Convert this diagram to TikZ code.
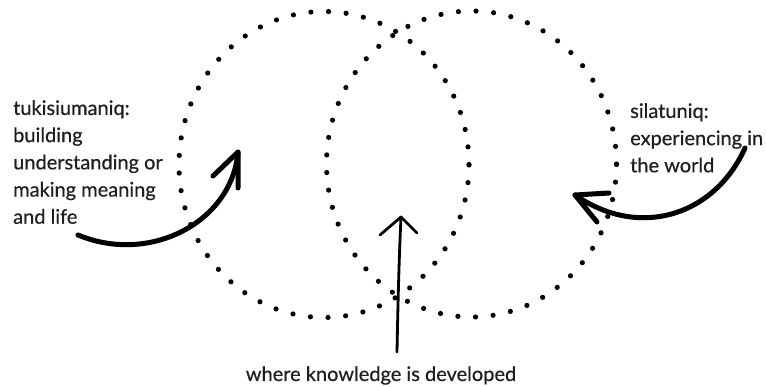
\documentclass[tikz,border=0pt]{standalone}
\usepackage{fontspec}
\setmainfont[FakeBold=0.5]{Lato}
\usetikzlibrary{shapes.geometric}
\begin{document}
\begin{tikzpicture}[x=1pt,y=-1pt,
  dotring/.style={ellipse, draw, line width=5.2pt, line cap=round,
    dash pattern=on 0pt off 17.66pt, minimum width=290pt,
    minimum height=306pt, inner sep=0pt, outer sep=0pt},
  caption/.style={font=\fontsize{20}{27.2}\selectfont, align=left,
    inner sep=0pt, text=black!88},
  bold arrow/.style={line width=5pt, line cap=round, line join=round},
  thin arrow/.style={line width=2.8pt, line cap=round, line join=round}]
\useasboundingbox (0,0) rectangle (766,387);

% the two overlapping dotted rings
\node[dotring] (making) at (324,164.5) {};
\node[dotring] (world)  at (471.5,164) {};

% captions
\node[caption, anchor=north west] (tuki) at (13,100)
  {tukisiumaniq:\\building\\understanding or\\making meaning\\and life};
\node[caption, anchor=north west] (sila) at (630,103)
  {silatuniq:\\experiencing in\\the world};
\node[caption, anchor=base] (where) at (381,381)
  {where knowledge is developed};

% arrow ends
\coordinate (l0) at (78,235);
\coordinate (l1) at (238,152);
\coordinate (la) at (213,176);
\coordinate (lb) at (238,188);

\coordinate (r0) at (745,148);
\coordinate (r1) at (575,195);
\coordinate (ra) at (609,193);
\coordinate (rb) at (597,222);

\coordinate (c0) at (397,352);
\coordinate (c1) at (401,217);
\coordinate (ca) at (380,235);
\coordinate (cb) at (417,233);

% left arrow into the first ring
\draw[bold arrow] (l0) .. controls (150,265) and (232,222) .. (l1);
\draw[bold arrow] (la) -- (l1) -- (lb);

% right arrow into the second ring
\draw[bold arrow] (r0) .. controls (715,215) and (640,240) .. (r1);
\draw[bold arrow] (ra) -- (r1) -- (rb);

% arrow up into the overlap
\draw[thin arrow] (c0) .. controls (398,300) and (399,260) .. (c1);
\draw[thin arrow] (ca) -- (c1) -- (cb);
\end{tikzpicture}
\end{document}
